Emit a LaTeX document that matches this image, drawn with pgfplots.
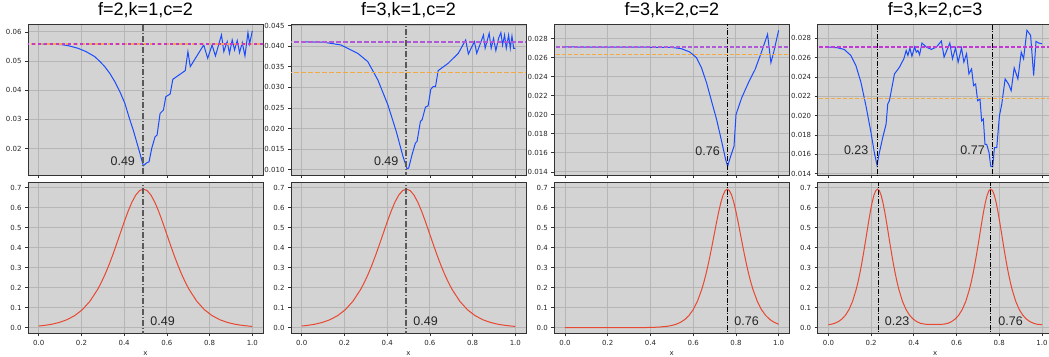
\documentclass[border=0pt]{standalone}
\usepackage{fontspec}
\setmainfont{Liberation Sans}
\newfontfamily\tickfont{DejaVu Sans}
\usepackage{pgfplots}
\pgfplotsset{compat=1.18}
\definecolor{bgc}{RGB}{211,211,211}
\definecolor{gridc}{RGB}{182,182,182}
\definecolor{blueline}{RGB}{25,75,255}
\definecolor{redline}{RGB}{232,72,50}
\definecolor{purp}{RGB}{175,90,215}
\definecolor{purpm}{RGB}{195,55,215}
\definecolor{oran}{RGB}{242,170,70}
\tikzset{ann/.style={font=\fontsize{12.5}{14}\selectfont, text=black!85, inner sep=0pt}}
\pgfplotsset{
  panel/.style={scale only axis, width=235pt, height=151pt, anchor=north west,
    axis background/.style={fill=bgc},
    grid=major, major grid style={gridc, line width=0.8pt},
    axis line style={black!80, line width=0.8pt},
    tick align=outside, major tick length=3pt, tick pos=left,
    tick style={black!80, line width=0.7pt},
    tick label style={font=\tickfont\fontsize{7}{8}\selectfont, text=black!85},
    /pgf/number format/assume math mode=true,
    scaled ticks=false,
    xmin=-0.05, xmax=1.05, xtick={0,0.2,0.4,0.6,0.8,1},
    title style={font=\fontsize{18}{20}\selectfont, at={(0.5,1)}, anchor=base, yshift=2.6pt, inner sep=0pt},
    clip=true},
  toppanel/.style={xticklabels={}},
  botpanel/.style={ymin=-0.028, ymax=0.727, ytick={0,0.1,0.2,0.3,0.4,0.5,0.6,0.7},
    xticklabel style={/pgf/number format/.cd, fixed, fixed zerofill, precision=1},
    yticklabel style={/pgf/number format/.cd, fixed, fixed zerofill, precision=1},
    xlabel={x}, xlabel style={font=\tickfont\fontsize{7}{8}\selectfont, text=black!85}},
  bl/.style={blueline, line width=1pt},
  rl/.style={redline, line width=1pt},
  hlthick/.style={line width=1.7pt, dash pattern=on 4.5pt off 2.5pt},
  hlthin/.style={line width=1.2pt, dash pattern=on 4pt off 2pt},
  vthick/.style={black!65, line width=1.8pt, dash pattern=on 6pt off 2pt on 1pt off 2pt},
  vthin/.style={black, line width=1pt, dash pattern=on 5pt off 1.5pt on 1pt off 1.5pt},
}
\pgfplotstableread{
x y
0 0.0084
0.02571 0.0113
0.06143 0.0173
0.09714 0.0265
0.13286 0.0402
0.16857 0.0605
0.20429 0.0900
0.24 0.1324
0.27571 0.1909
0.29357 0.2271
0.31143 0.2685
0.32929 0.3147
0.34714 0.3653
0.365 0.4194
0.38286 0.4750
0.40071 0.5303
0.41857 0.5822
0.43643 0.6275
0.45429 0.6629
0.47214 0.6854
0.49 0.6931
0.50786 0.6854
0.52571 0.6629
0.54357 0.6275
0.56143 0.5822
0.57929 0.5303
0.59714 0.4750
0.615 0.4194
0.63286 0.3653
0.65071 0.3147
0.66857 0.2685
0.68643 0.2271
0.70429 0.1909
0.74 0.1324
0.77571 0.0900
0.81143 0.0605
0.84714 0.0402
0.88286 0.0265
0.91857 0.0173
0.95429 0.0113
0.99 0.0073
1.0 0.0066
}\redA
\pgfplotstableread{
x y
0 0.0000
0.3 0.0001
0.4 0.0012
0.44 0.0030
0.48 0.0073
0.50 0.0113
0.52 0.0173
0.54 0.0265
0.56 0.0402
0.58 0.0605
0.60 0.0900
0.62 0.1324
0.64 0.1909
0.65 0.2271
0.66 0.2685
0.67 0.3147
0.68 0.3653
0.69 0.4194
0.70 0.4750
0.71 0.5303
0.72 0.5822
0.73 0.6275
0.74 0.6629
0.75 0.6854
0.76 0.6931
0.77 0.6854
0.78 0.6629
0.79 0.6275
0.80 0.5822
0.81 0.5303
0.82 0.4750
0.83 0.4194
0.84 0.3653
0.85 0.3147
0.86 0.2685
0.87 0.2271
0.88 0.1909
0.90 0.1324
0.92 0.0900
0.94 0.0605
0.96 0.0402
0.98 0.0265
1.0 0.0173
}\redC
\pgfplotstableread{
x y
0 0.015
0.01333 0.0173
0.03 0.0223
0.04667 0.0305
0.06333 0.0432
0.08 0.0625
0.09667 0.091
0.11333 0.1324
0.13 0.1909
0.13833 0.2271
0.14667 0.2685
0.155 0.3147
0.16333 0.3653
0.17167 0.4194
0.18 0.4750
0.18833 0.5303
0.19667 0.5822
0.205 0.6275
0.21333 0.6629
0.22167 0.6854
0.23 0.6931
0.23833 0.6854
0.24667 0.6629
0.255 0.6275
0.26333 0.5822
0.27167 0.5303
0.28 0.4750
0.28833 0.4194
0.29667 0.3653
0.305 0.3147
0.31333 0.2685
0.32167 0.2271
0.33 0.1909
0.34667 0.1324
0.36333 0.091
0.38 0.0625
0.39667 0.0432
0.41333 0.0305
0.43 0.0223
0.44667 0.0185
0.46333 0.0165
0.495 0.016
0.52667 0.0165
0.54333 0.0185
0.56 0.0223
0.57667 0.0305
0.59333 0.0432
0.61 0.0625
0.62667 0.091
0.64333 0.1324
0.66 0.1909
0.66833 0.2271
0.67667 0.2685
0.685 0.3147
0.69333 0.3653
0.70167 0.4194
0.71 0.4750
0.71833 0.5303
0.72667 0.5822
0.735 0.6275
0.74333 0.6629
0.75167 0.6854
0.76 0.6931
0.76833 0.6854
0.77667 0.6629
0.785 0.6275
0.79333 0.5822
0.80167 0.5303
0.81 0.4750
0.81833 0.4194
0.82667 0.3653
0.835 0.3147
0.84333 0.2685
0.85167 0.2271
0.86 0.1909
0.87667 0.1324
0.89333 0.091
0.91 0.0625
0.92667 0.0432
0.94333 0.0305
0.96 0.0223
0.97667 0.0173
1.0 0.015
}\redD
\pgfplotstableread{
x y
0 0.05588
0.1052 0.05565
0.1366 0.0553
0.1837 0.05439
0.2229 0.0532
0.2622 0.05152
0.2857 0.0499
0.3093 0.04809
0.3328 0.0458
0.3564 0.04293
0.3799 0.0395
0.4035 0.03549
0.4223 0.0309
0.4427 0.02632
0.4741 0.01830
0.4898 0.01407
0.5055 0.01510
0.5165 0.01544
0.5290 0.02002
0.5447 0.02403
0.5542 0.02460
0.5683 0.03205
0.5840 0.03320
0.5950 0.03778
0.6154 0.03869
0.6279 0.04373
0.6860 0.04671
0.6986 0.05324
0.7096 0.04809
0.7724 0.05553
0.7912 0.05095
0.8116 0.05553
0.8273 0.05175
0.8556 0.05897
0.8666 0.05324
0.8823 0.05668
0.8932 0.05267
0.9058 0.05725
0.9168 0.05381
0.9294 0.05702
0.9403 0.05290
0.9529 0.05633
0.9655 0.05175
0.9796 0.05977
0.9874 0.05588
1.0 0.06034
}\blueA
\pgfplotstableread{
x y
0 0.04112
0.1052 0.04096
0.1837 0.04032
0.2622 0.03829
0.3093 0.03627
0.3564 0.03182
0.4035 0.02575
0.4427 0.01928
0.4741 0.01321
0.4929 0.01022
0.5008 0.01038
0.5165 0.01362
0.5322 0.01645
0.5400 0.01685
0.5557 0.02171
0.5636 0.02211
0.5793 0.02519
0.5918 0.02551
0.6044 0.02955
0.6154 0.0302
0.6264 0.0302
0.6389 0.03408
0.6860 0.03587
0.7331 0.03829
0.7677 0.04153
0.7802 0.03813
0.8085 0.04112
0.8195 0.03829
0.8509 0.04274
0.8587 0.03951
0.8776 0.04315
0.8870 0.03951
0.8980 0.04193
0.9089 0.03894
0.9215 0.04193
0.9325 0.04331
0.9403 0.04032
0.9498 0.04274
0.9576 0.03951
0.9686 0.04274
0.9765 0.03951
0.9843 0.0425
0.9921 0.03951
1.0 0.03951
}\blueB
\pgfplotstableread{
x y
0 0.02712
0.4976 0.02708
0.5447 0.02694
0.5840 0.02659
0.6154 0.0260
0.6389 0.02494
0.6625 0.02337
0.6860 0.02143
0.7096 0.01951
0.7331 0.01722
0.7520 0.0153
0.7614 0.01459
0.7755 0.01565
0.7912 0.0167
0.8006 0.02003
0.8273 0.02179
0.8587 0.02337
0.8901 0.02477
0.9215 0.0267
0.9482 0.02845
0.9639 0.02547
0.9765 0.02652
1.0 0.02887
}\blueC
\pgfplotstableread{
x y
0 0.02710
0.0424 0.02703
0.0738 0.02686
0.1052 0.02623
0.1287 0.02519
0.1523 0.02346
0.1758 0.02102
0.1994 0.01825
0.2151 0.01616
0.2276 0.01488
0.2386 0.01616
0.2543 0.01773
0.2700 0.01911
0.2779 0.0212
0.2857 0.02155
0.3093 0.02432
0.3328 0.02502
0.3532 0.02589
0.3642 0.02675
0.3721 0.02623
0.3815 0.027
0.3909 0.02616
0.4035 0.0271
0.4113 0.02658
0.4192 0.02675
0.4270 0.0263
0.4380 0.02752
0.4584 0.0271
0.4819 0.02686
0.5055 0.0271
0.5290 0.02773
0.5416 0.02606
0.5683 0.02752
0.5808 0.02589
0.5950 0.027
0.6075 0.02554
0.6232 0.027
0.6342 0.02554
0.6468 0.02641
0.6578 0.02432
0.6703 0.02484
0.6797 0.02311
0.6892 0.02328
0.6986 0.02155
0.7096 0.02172
0.7174 0.01946
0.7253 0.01964
0.7331 0.01703
0.7410 0.01703
0.7520 0.01616
0.7598 0.01477
0.7692 0.0147
0.7771 0.01668
0.7881 0.01668
0.8006 0.01998
0.8116 0.0212
0.8273 0.0238
0.8430 0.02328
0.8556 0.02259
0.8697 0.02495
0.8870 0.0238
0.9027 0.02658
0.9137 0.02589
0.9294 0.02884
0.9466 0.02832
0.9608 0.02415
0.9718 0.02769
0.9843 0.02752
1.0 0.02745
}\blueD
\begin{document}
\begin{tikzpicture}
\useasboundingbox (0pt,0pt) rectangle (1049pt,-356pt);
% ---------- Panel 1 top
\begin{axis}[panel, toppanel, at={(28pt,-24.3pt)}, ymin=0.01082, ymax=0.0626,
  ytick={0.02,0.03,0.04,0.05,0.06},
  yticklabel style={/pgf/number format/.cd, fixed, fixed zerofill, precision=2},
  title={f=2,k=1,c=2}]
\addplot[bl] table {\blueA};
\addplot[oran, hlthick] coordinates {(-0.1,0.0558) (1.1,0.0558)};
\addplot[purpm, hlthick, dash pattern=on 3pt off 3pt, dash phase=3pt] coordinates {(-0.1,0.0558) (1.1,0.0558)};
\addplot[vthick] coordinates {(0.49,0) (0.49,0.1)};
\node[ann, anchor=base east] at (axis cs:0.4515,0.01402) {0.49};
\end{axis}
% ---------- Panel 1 bottom
\begin{axis}[panel, botpanel, at={(28pt,-182.3pt)}]
\addplot[rl] table {\redA};
\addplot[vthick] coordinates {(0.49,-0.1) (0.49,1)};
\node[ann, anchor=base west] at (axis cs:0.522,0.01) {0.49};
\end{axis}
% ---------- Panel 2 top
\begin{axis}[panel, toppanel, at={(291pt,-24.3pt)}, ymin=0.00862, ymax=0.04534,
  ytick={0.01,0.015,0.02,0.025,0.03,0.035,0.04,0.045},
  yticklabel style={/pgf/number format/.cd, fixed, fixed zerofill, precision=3},
  title={f=3,k=1,c=2}]
\addplot[bl] table {\blueB};
\addplot[oran, hlthick] coordinates {(-0.1,0.0336) (1.1,0.0336)};
\addplot[purp, hlthick] coordinates {(-0.1,0.0411) (1.1,0.0411)};
\addplot[vthick] coordinates {(0.49,0) (0.49,0.1)};
\node[ann, anchor=base east] at (axis cs:0.4536,0.01102) {0.49};
\end{axis}
% ---------- Panel 2 bottom
\begin{axis}[panel, botpanel, at={(291pt,-182.3pt)}]
\addplot[rl] table {\redA};
\addplot[vthick] coordinates {(0.49,-0.1) (0.49,1)};
\node[ann, anchor=base west] at (axis cs:0.522,0.01) {0.49};
\end{axis}
% ---------- Panel 3 top
\begin{axis}[panel, toppanel, at={(554.3pt,-24.3pt)}, ymin=0.01364, ymax=0.0295,
  ytick={0.014,0.016,0.018,0.02,0.022,0.024,0.026,0.028},
  yticklabel style={/pgf/number format/.cd, fixed, fixed zerofill, precision=3},
  title={f=3,k=2,c=2}]
\addplot[bl] table {\blueC};
\addplot[oran, hlthin] coordinates {(-0.1,0.02632) (1.1,0.02632)};
\addplot[purp, hlthin] coordinates {(-0.1,0.02712) (1.1,0.02712)};
\addplot[vthin] coordinates {(0.76,0) (0.76,0.1)};
\node[ann, anchor=base east] at (axis cs:0.7254,0.01571) {0.76};
\end{axis}
% ---------- Panel 3 bottom
\begin{axis}[panel, botpanel, at={(554.3pt,-182.3pt)}]
\addplot[rl] table {\redC};
\addplot[vthin] coordinates {(0.76,-0.1) (0.76,1)};
\node[ann, anchor=base west] at (axis cs:0.792,0.01) {0.76};
\end{axis}
% ---------- Panel 4 top
\begin{axis}[panel, toppanel, at={(817.7pt,-24.3pt)}, ymin=0.01382, ymax=0.02946,
  ytick={0.014,0.016,0.018,0.02,0.022,0.024,0.026,0.028},
  yticklabel style={/pgf/number format/.cd, fixed, fixed zerofill, precision=3},
  title={f=3,k=2,c=3}]
\addplot[bl] table {\blueD};
\addplot[oran, hlthin] coordinates {(-0.1,0.02179) (1.1,0.02179)};
\addplot[purpm, hlthin] coordinates {(-0.1,0.0271) (1.1,0.0271)};
\addplot[vthin] coordinates {(0.228,0) (0.228,0.1)};
\addplot[vthin] coordinates {(0.769,0) (0.769,0.1)};
\node[ann, anchor=base east] at (axis cs:0.188,0.01599) {0.23};
\node[ann, anchor=base east] at (axis cs:0.733,0.01599) {0.77};
\end{axis}
% ---------- Panel 4 bottom
\begin{axis}[panel, botpanel, at={(817.7pt,-182.3pt)}]
\addplot[rl] table {\redD};
\addplot[vthin] coordinates {(0.233,-0.1) (0.233,1)};
\addplot[vthin] coordinates {(0.761,-0.1) (0.761,1)};
\node[ann, anchor=base west] at (axis cs:0.264,0.01) {0.23};
\node[ann, anchor=base west] at (axis cs:0.795,0.01) {0.76};
\end{axis}
\end{tikzpicture}
\end{document}
